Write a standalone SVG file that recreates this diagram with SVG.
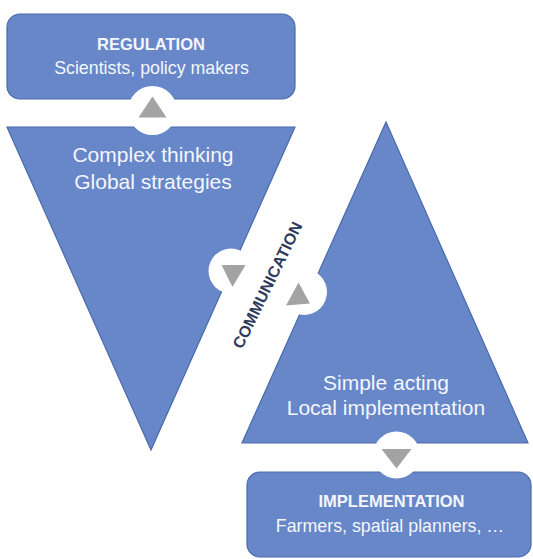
<svg xmlns="http://www.w3.org/2000/svg" width="533" height="559" viewBox="0 0 533 559">
  <defs>
    <style>
      .shape { fill: #6787C9; stroke: #4A6AAB; stroke-width: 1.2; }
      .hole { fill: #FFFFFF; }
      .arrow { fill: #A3A3A3; }
      .title { font-family: "Liberation Sans", Arial, sans-serif; font-weight: bold; font-size: 16.5px; fill: #F4F6FB; text-anchor: middle; }
      .sub { font-family: "Liberation Sans", Arial, sans-serif; font-size: 17.8px; fill: #F4F6FB; text-anchor: middle; }
      .big { font-family: "Liberation Sans", Arial, sans-serif; font-size: 21px; fill: #F4F6FB; text-anchor: middle; }
      .comm { font-family: "Liberation Sans", Arial, sans-serif; font-weight: bold; font-size: 16px; fill: #2E3A5C; text-anchor: middle; }
    </style>
  </defs>
  <rect width="533" height="559" fill="#FFFFFF"/>

  <!-- upper level: regulation -->
  <g id="regulation">
    <rect class="shape" x="7" y="14" width="288" height="85" rx="13" ry="13"/>
    <text class="title" x="151" y="50">REGULATION</text>
    <text class="sub" x="151.5" y="74">Scientists, policy makers</text>
  </g>

  <!-- inverted triangle: thinking -->
  <g id="thinking">
    <polygon class="shape" points="7,127 295,127 151,450"/>
    <text class="big" x="153" y="162">Complex thinking</text>
    <text class="big" x="153" y="189">Global strategies</text>
  </g>

  <!-- upright triangle: acting -->
  <g id="acting">
    <polygon class="shape" points="386,122 528,443 242,443"/>
    <text class="big" x="386" y="390">Simple acting</text>
    <text class="big" x="386" y="415">Local implementation</text>
  </g>

  <!-- lower level: implementation -->
  <g id="implementation">
    <rect class="shape" x="247" y="472" width="284" height="85" rx="13" ry="13"/>
    <text class="title" x="391.5" y="507">IMPLEMENTATION</text>
    <text class="sub" x="390" y="532">Farmers, spatial planners, …</text>
  </g>

  <!-- diagonal band label -->
  <g id="communication">
    <text class="comm" transform="translate(267,285) rotate(-64)" x="0" y="6">COMMUNICATION</text>
  </g>

  <!-- flow markers between levels -->
  <g id="connectors">
    <circle class="hole" cx="152.5" cy="110.5" r="24.5"/>
    <polygon class="arrow" points="152.5,96.5 138.5,117.5 166.5,117.5"/>

    <circle class="hole" cx="231" cy="271" r="22.5"/>
    <polygon class="arrow" points="221.5,265 245.5,265 232.5,287"/>

    <circle class="hole" cx="304" cy="292" r="23"/>
    <polygon class="arrow" points="298.5,282.5 286,305.5 310,303.5"/>

    <circle class="hole" cx="396.5" cy="455" r="23.5"/>
    <polygon class="arrow" points="381.5,449 411.5,449 396.5,468.5"/>
  </g>
</svg>
